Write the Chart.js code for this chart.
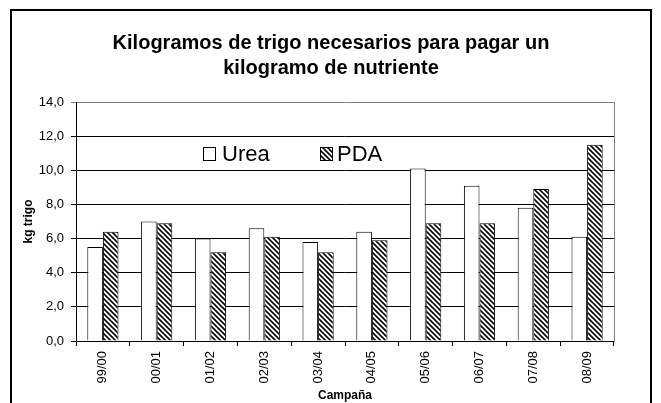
<!DOCTYPE html>
<html>
<head>
<meta charset="utf-8">
<script src="https://cdn.jsdelivr.net/npm/chart.js@4.4.1/dist/chart.umd.min.js"></script>
<style>
  body { margin: 0; background: #fff; }
  canvas { display: block; }
</style>
</head>
<body>
<canvas id="chart1" width="661" height="403"></canvas>
<script>
// datos del gráfico
const campanas = ['99/00', '00/01', '01/02', '02/03', '03/04', '04/05', '05/06', '06/07', '07/08', '08/09'];
const urea = [5.5, 7.0, 6.0, 6.6, 5.8, 6.4, 10.1, 9.1, 7.8, 6.1];
const pda = [6.4, 6.9, 5.2, 6.1, 5.2, 5.9, 6.9, 6.9, 8.9, 11.5];
const yTicks = [0, 2, 4, 6, 8, 10, 12, 14];

const FONT = "Arial, 'Liberation Sans', sans-serif";

// trama rayada para PDA
function rayado() {
    const n = 5;
    const c = document.createElement('canvas');
    c.width = n;
    c.height = n;
    const g = c.getContext('2d');
    g.fillStyle = '#fff';
    g.fillRect(0, 0, n, n);
    g.strokeStyle = '#000';
    g.lineWidth = 1.6;
    g.beginPath();
    for (let k = -n; k <= n; k += n) {
        g.moveTo(k - 1, -1);
        g.lineTo(k + n + 1, n + 1);
    }
    g.stroke();
    return g.createPattern(c, 'repeat');
}
const trama = rayado();

// marco exterior y leyenda dentro del área del gráfico
const marco = {
    id: 'marco',
    beforeDraw(chart) {
        const ctx = chart.ctx;
        ctx.save();
        ctx.fillStyle = '#fff';
        ctx.fillRect(0, 0, chart.width, chart.height);
        ctx.strokeStyle = '#000';
        ctx.lineWidth = 2;
        ctx.strokeRect(11, 10, 640, 430);
        ctx.restore();
    },
    afterDatasetsDraw(chart) {
        const ctx = chart.ctx;
        const a = chart.chartArea;
        const items = [
            { x: a.left + 127, tx: a.left + 146, label: chart.data.datasets[0].label, fill: chart.data.datasets[0].backgroundColor },
            { x: a.left + 244, tx: a.left + 261, label: chart.data.datasets[1].label, fill: chart.data.datasets[1].backgroundColor }
        ];
        const y = a.top + 45;
        ctx.save();
        ctx.font = '22px ' + FONT;
        ctx.textBaseline = 'middle';
        items.forEach(function(it) {
            ctx.fillStyle = it.fill;
            ctx.fillRect(it.x, y, 12, 13);
            ctx.strokeStyle = '#000';
            ctx.lineWidth = 1;
            ctx.strokeRect(it.x + 0.5, y + 0.5, 12, 13);
            ctx.fillStyle = '#000';
            ctx.fillText(it.label, it.tx, y + 8);
        });
        ctx.restore();
    }
};

new Chart(document.getElementById('chart1').getContext('2d'), {
    type: 'bar',
    data: {
        labels: campanas,
        datasets: [{
            label: 'Urea',
            data: urea,
            backgroundColor: '#fff',
            borderColor: '#000',
            borderWidth: 1
        }, {
            label: 'PDA',
            data: pda,
            backgroundColor: trama,
            borderColor: '#000',
            borderWidth: 1
        }]
    },
    plugins: [marco],
    options: {
        responsive: false,
        animation: false,
        devicePixelRatio: 1,
        categoryPercentage: 0.58,
        barPercentage: 1.0,
        layout: {
            padding: { left: 11, right: 10, top: 0, bottom: 0 }
        },
        plugins: {
            legend: { display: false },
            tooltip: { enabled: false },
            title: {
                display: true,
                text: ['Kilogramos de trigo necesarios para pagar un', 'kilogramo de nutriente'],
                color: '#000',
                font: { family: FONT, size: 20, weight: 'bold', lineHeight: 1.25 },
                padding: { top: 31, bottom: 21 }
            }
        },
        scales: {
            x: {
                grid: {
                    display: true,
                    offset: true,
                    drawOnChartArea: false,
                    drawTicks: true,
                    tickLength: 5,
                    color: '#000'
                },
                border: { display: true, color: '#000', width: 1 },
                ticks: {
                    color: '#000',
                    font: { family: FONT, size: 13 },
                    minRotation: 90,
                    maxRotation: 90,
                    padding: 5,
                    autoSkip: false
                },
                title: {
                    display: true,
                    text: 'Campaña',
                    color: '#000',
                    font: { family: FONT, size: 12, weight: 'bold' },
                    padding: { top: 0, bottom: 0 }
                },
                afterFit(s) { s.height = 62; }
            },
            y: {
                min: 0,
                max: 14,
                afterBuildTicks(s) { s.ticks = yTicks.map(function(v) { return { value: v }; }); },
                grid: {
                    color(c) { return c.tick && c.tick.value === 14 ? '#808080' : '#000'; },
                    lineWidth: 1,
                    drawTicks: true,
                    tickLength: 5
                },
                border: { display: true, color: '#000', width: 1 },
                ticks: {
                    color: '#000',
                    font: { family: FONT, size: 13 },
                    padding: 7,
                    callback(v) { return v.toFixed(1).replace('.', ','); }
                },
                title: {
                    display: true,
                    text: 'kg trigo',
                    color: '#000',
                    font: { family: FONT, size: 12, weight: 'bold' },
                    padding: { top: 10, bottom: 0 }
                },
                afterFit(s) { s.width = 65; }
            },
            derecha: {
                position: 'right',
                display: true,
                grid: { display: false, drawTicks: false },
                ticks: { display: false },
                border: { display: true, color: '#808080', width: 1 },
                afterFit(s) { s.width = 37; }
            }
        }
    }
});
</script>
</body>
</html>
